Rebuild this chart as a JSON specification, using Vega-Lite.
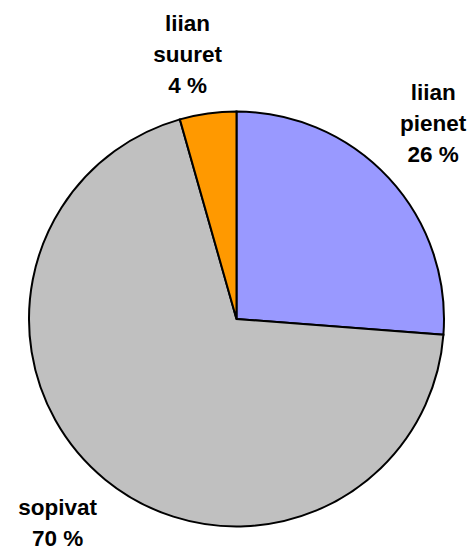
{
  "$schema": "https://vega.github.io/schema/vega-lite/v6.json",
  "width": 471,
  "height": 458,
  "padding": {"left": 1, "top": 90, "right": 0, "bottom": 0},
  "autosize": {"type": "none"},
  "background": "white",
  "config": {"view": {"stroke": null}},
  "data": {"values": [
    {"key": "pienet", "label": "liian\npienet\n26 %", "value": 26.2, "order": 1},
    {"key": "sopivat", "label": "sopivat\n70 %", "value": 69.4, "order": 2},
    {"key": "suuret", "label": "liian\nsuuret\n4 %", "value": 4.4, "order": 3}
  ]},
  "encoding": {
    "theta": {"field": "value", "type": "quantitative", "stack": true},
    "order": {"field": "order", "type": "quantitative"}
  },
  "layer": [
    {
      "mark": {"type": "arc", "outerRadius": 207.5, "stroke": "black", "strokeWidth": 2},
      "encoding": {
        "color": {
          "field": "key", "type": "nominal", "legend": null,
          "scale": {"domain": ["pienet", "sopivat", "suuret"], "range": ["#9999FF", "#C0C0C0", "#FF9900"]}
        }
      }
    },
    {
      "mark": {"type": "text", "radius": 275, "dx": -5, "dy": -39, "lineBreak": "\n", "font": "Liberation Sans", "fontWeight": "bold", "fontSize": 22.5, "lineHeight": 31, "align": "center", "baseline": "middle", "color": "black"},
      "encoding": {"text": {"condition": {"test": "datum.key == 'pienet'", "field": "label"}, "value": ""}}
    },
    {
      "mark": {"type": "text", "radius": 275, "dx": -11, "dy": -23, "lineBreak": "\n", "font": "Liberation Sans", "fontWeight": "bold", "fontSize": 22.5, "lineHeight": 31, "align": "center", "baseline": "middle", "color": "black"},
      "encoding": {"text": {"condition": {"test": "datum.key == 'suuret'", "field": "label"}, "value": ""}}
    },
    {
      "mark": {"type": "text", "radius": 275, "dx": -5, "dy": -24, "lineBreak": "\n", "font": "Liberation Sans", "fontWeight": "bold", "fontSize": 22.5, "lineHeight": 31, "align": "center", "baseline": "middle", "color": "black"},
      "encoding": {"text": {"condition": {"test": "datum.key == 'sopivat'", "field": "label"}, "value": ""}}
    }
  ]
}
